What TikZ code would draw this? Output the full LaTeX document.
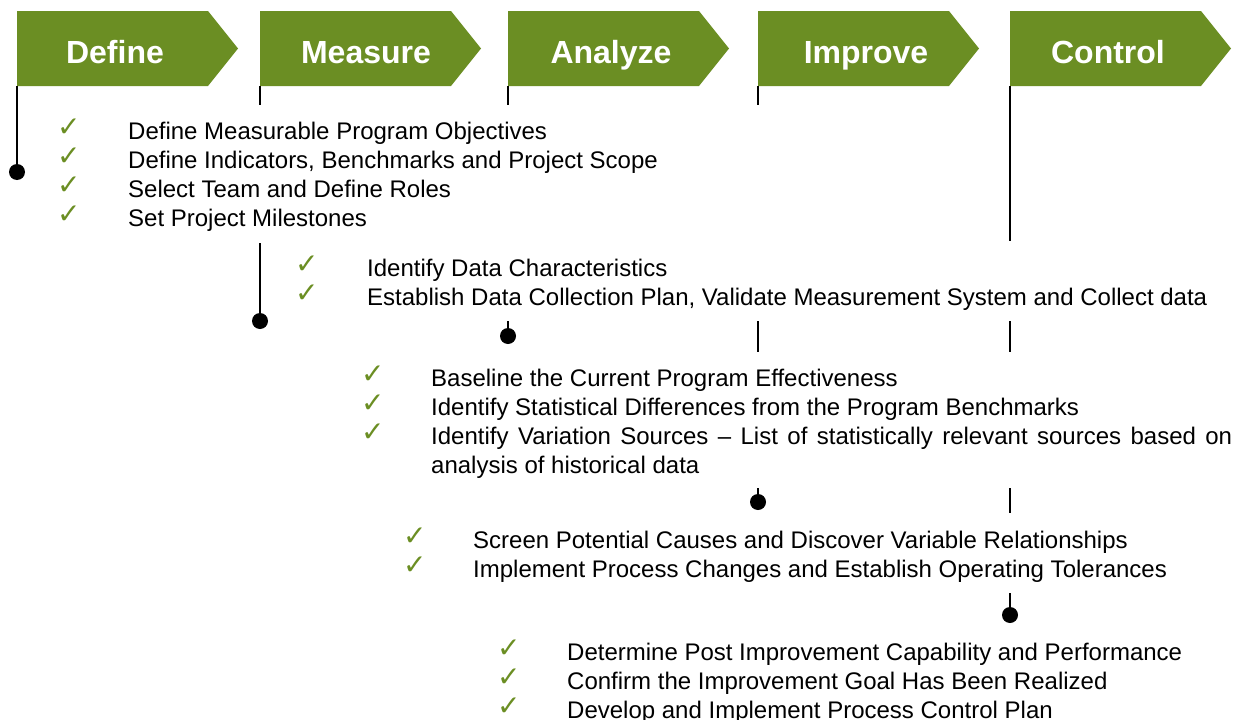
\documentclass[tikz,border=0pt]{standalone}
\usepackage{fontspec}
\setmainfont{Liberation Sans}
\newfontfamily\checkfont{DejaVu Sans}
\definecolor{phasegreen}{RGB}{107,142,35}

\begin{document}
\begin{tikzpicture}[x=1pt, y=-1pt,
        head/.style={text=white, anchor=base, inner sep=0pt, font=\fontsize{32}{38}\selectfont\bfseries},
        item/.style={anchor=base west, inner sep=0pt, font=\fontsize{24}{29}\selectfont},
        check/.style={text=phasegreen, anchor=base west, inner sep=0pt, font=\checkfont\fontsize{28}{28}\selectfont},
        dot/.style={circle, fill=black, inner sep=0pt, minimum size=16pt},
        link/.style={line width=2.4pt},]

        \useasboundingbox (0,0) rectangle (1243,720);

        % Phases
        \foreach \x/\n/\lbl/\tx in {17/d/Define/115, 260/m/Measure/366, 508/a/Analyze/611, 758/i/Improve/866, 1010/c/Control/1108} {
            \fill[phasegreen] (\x,11) -- ++(191,0) -- ++(30,37.5) -- ++(-30,37.5) -- (\x,86) -- cycle;
            \node[head] (h\n) at (\tx,63) {\lbl};
            \coordinate (b\n) at (\x,86);
        }

        % Define
        \foreach \t [count=\k] in {Define Measurable Program Objectives, {Define Indicators, Benchmarks and Project Scope}, Select Team and Define Roles, Set Project Milestones} {
            \node[check] (dc\k) at (57,136+29*\k-29) {✓};
            \node[item] (dt\k) at (128,139+29*\k-29) {\t};
        }

        % Measure
        \foreach \t [count=\k] in {Identify Data Characteristics, {Establish Data Collection Plan, Validate Measurement System and Collect data}} {
            \node[check] (mc\k) at (295,273+29*\k-29) {✓};
            \node[item] (mt\k) at (367,276+29*\k-29) {\t};
        }

        % Analyze
        \foreach \t [count=\k] in {Baseline the Current Program Effectiveness, Identify Statistical Differences from the Program Benchmarks} {
            \node[check] (ac\k) at (361,383+29*\k-29) {✓};
            \node[item] (at\k) at (431,386+29*\k-29) {\t};
        }
        \node[check] (ac3) at (361,441) {✓};
        \node[item] (at3) at (431,444) {\makebox[801pt][s]{Identify Variation Sources – List of statistically relevant sources based on}};
        \node[item] (at4) at (431,473) {analysis of historical data};

        % Improve
        \foreach \t [count=\k] in {Screen Potential Causes and Discover Variable Relationships, Implement Process Changes and Establish Operating Tolerances} {
            \node[check] (ic\k) at (403,545+29*\k-29) {✓};
            \node[item] (it\k) at (473,548+29*\k-29) {\t};
        }

        % Control
        \foreach \t [count=\k] in {Determine Post Improvement Capability and Performance, Confirm the Improvement Goal Has Been Realized, Develop and Implement Process Control Plan} {
            \node[check] (cc\k) at (497,657+29*\k-29) {✓};
            \node[item] (ct\k) at (567,660+29*\k-29) {\t};
        }

        % Milestones
        \node[dot] (dd) at (17,172) {};
        \node[dot] (md) at (260,321) {};
        \node[dot] (ad) at (508,336) {};
        \node[dot] (id) at (758,502) {};
        \node[dot] (cd) at (1010,615) {};

        \coordinate (m-tick) at (260,105);
        \coordinate (m-top) at (260,243);
        \coordinate (a-tick) at (508,105);
        \coordinate (a-top) at (508,321);
        \coordinate (i-tick) at (758,105);
        \coordinate (i-a1) at (758,321);
        \coordinate (i-a2) at (758,352);
        \coordinate (i-top) at (758,488);
        \coordinate (c-end) at (1010,241);
        \coordinate (c-a1) at (1010,321);
        \coordinate (c-a2) at (1010,352);
        \coordinate (c-i1) at (1010,488);
        \coordinate (c-i2) at (1010,513);
        \coordinate (c-top) at (1010,593);

        % Timelines
        \draw[link] (bd) -- (dd);
        \draw[link] (bm) -- (m-tick);
        \draw[link] (m-top) -- (md);
        \draw[link] (ba) -- (a-tick);
        \draw[link] (a-top) -- (ad);
        \draw[link] (bi) -- (i-tick);
        \draw[link] (i-a1) -- (i-a2);
        \draw[link] (i-top) -- (id);
        \draw[link] (bc) -- (c-end);
        \draw[link] (c-a1) -- (c-a2);
        \draw[link] (c-i1) -- (c-i2);
        \draw[link] (c-top) -- (cd);
    \end{tikzpicture}
\end{document}
